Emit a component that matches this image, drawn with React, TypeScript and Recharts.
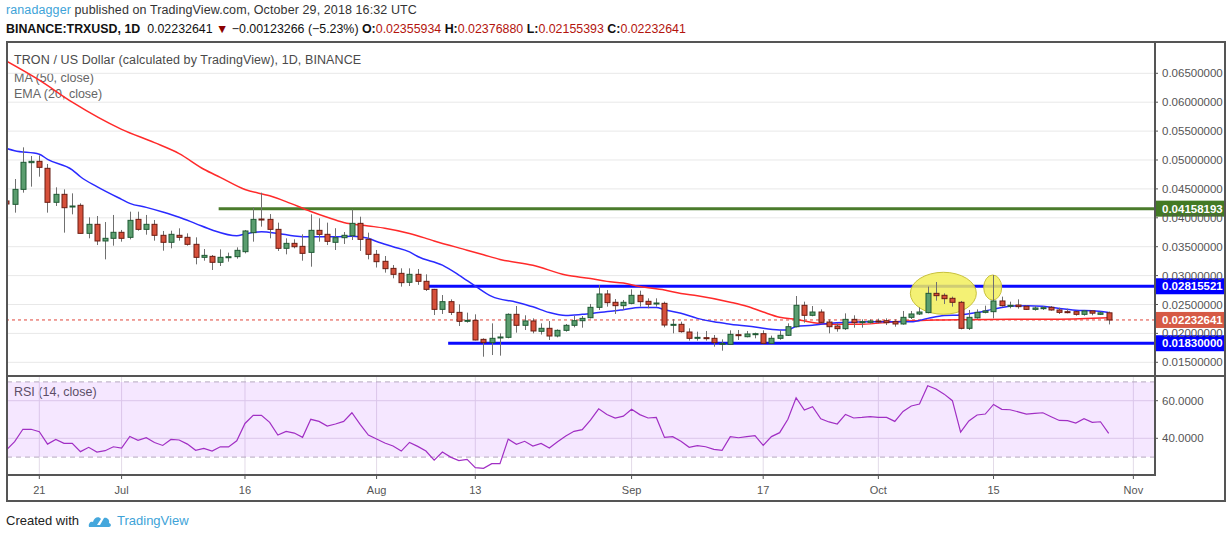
import React from 'react';
import {
  ComposedChart,
  Bar,
  Line,
  XAxis,
  YAxis,
  CartesianGrid,
  ReferenceLine,
  ReferenceDot,
  ReferenceArea,
} from 'recharts';

// day index: 0 = Jun 21 2018, first candle Jun 17
const FIRST_DAY = -4;

const opens = [
  0.04291, 0.04233, 0.04492, 0.04954, 0.04977, 0.04856, 0.04268, 0.04406, 0.04198, 0.04216,
  0.03731, 0.03887, 0.03599, 0.03645, 0.03749, 0.03662, 0.03973, 0.038, 0.03887, 0.03697,
  0.03576, 0.03697, 0.03662, 0.03541, 0.03316, 0.03333, 0.0323, 0.03316, 0.03328, 0.03414,
  0.03743, 0.03979, 0.03973, 0.038, 0.03472, 0.03558, 0.03506, 0.03402, 0.03783, 0.03714,
  0.03576, 0.03656, 0.03691, 0.03904, 0.03627, 0.03368, 0.03247, 0.03125, 0.03039, 0.02884,
  0.03022, 0.02901, 0.02762, 0.02416, 0.02549, 0.02364, 0.02209, 0.02226, 0.01897, 0.0184,
  0.01926, 0.01932, 0.0233, 0.0214, 0.02215, 0.02036, 0.02088, 0.01955, 0.02053, 0.0214,
  0.0222, 0.02272, 0.02451, 0.02682, 0.02538, 0.0248, 0.0252, 0.02659, 0.02555, 0.02509,
  0.0252, 0.02145, 0.02157, 0.02024, 0.01915, 0.01926, 0.01915, 0.01811, 0.01811, 0.01978,
  0.01943, 0.01984, 0.01995, 0.01828, 0.01915, 0.01967, 0.02116, 0.02486, 0.02313, 0.0237,
  0.02197, 0.02128, 0.02082, 0.02243, 0.02191, 0.02191, 0.02215, 0.0222, 0.02203, 0.02163,
  0.02278, 0.02336, 0.0236, 0.02693, 0.02659, 0.02607, 0.02538, 0.02088, 0.0227, 0.02364,
  0.02376, 0.02561, 0.0248, 0.02491, 0.02469, 0.02416, 0.0244, 0.02451, 0.02405, 0.02376,
  0.02376, 0.0233, 0.02388, 0.0233, 0.02355934,
];

const highs = [
  0.043, 0.04671, 0.05219, 0.05069, 0.0508, 0.04931, 0.04527, 0.04492, 0.04423, 0.0425,
  0.04008, 0.04031, 0.03927, 0.04049, 0.0379, 0.04106, 0.04106, 0.04049, 0.03962, 0.03772,
  0.03777, 0.03818, 0.03731, 0.03662, 0.0346, 0.03356, 0.03454, 0.03397, 0.03489, 0.03789,
  0.04181, 0.04435, 0.04065, 0.03916, 0.03645, 0.03627, 0.03714, 0.0406, 0.03991, 0.03916,
  0.0382, 0.03754, 0.04146, 0.04019, 0.03743, 0.03443, 0.03339, 0.03183, 0.03126, 0.03126,
  0.03114, 0.03022, 0.0277, 0.02664, 0.02589, 0.02503, 0.02359, 0.0233, 0.01915, 0.02174,
  0.02001, 0.02347, 0.02474, 0.02313, 0.0226, 0.02174, 0.02214, 0.0207, 0.02163, 0.02301,
  0.02301, 0.02509, 0.02837, 0.02751, 0.02595, 0.02578, 0.02762, 0.02739, 0.02607, 0.02607,
  0.02549, 0.02249, 0.02203, 0.02088, 0.0203, 0.02042, 0.01972, 0.01897, 0.02053, 0.02059,
  0.02042, 0.02013, 0.02053, 0.01961, 0.02053, 0.02174, 0.02647, 0.02549, 0.02474, 0.02416,
  0.02243, 0.02174, 0.02347, 0.02313, 0.02243, 0.02243, 0.02255, 0.0226, 0.02243, 0.02388,
  0.02388, 0.02451, 0.02809, 0.02889, 0.02693, 0.02636, 0.02561, 0.02405, 0.02416, 0.0248,
  0.0301, 0.02636, 0.02549, 0.02589, 0.02486, 0.02474, 0.02474, 0.02474, 0.02445, 0.02428,
  0.02393, 0.02405, 0.02405, 0.02376, 0.0237688,
];

const lows = [
  0.0423, 0.04089, 0.04435, 0.04539, 0.04712, 0.04089, 0.04204, 0.03743, 0.0406, 0.0373,
  0.03645, 0.03529, 0.03281, 0.03518, 0.03587, 0.03627, 0.03777, 0.03708, 0.03604, 0.03431,
  0.03472, 0.03604, 0.03518, 0.03195, 0.03258, 0.03097, 0.03166, 0.03241, 0.03293, 0.03385,
  0.03587, 0.03847, 0.03645, 0.03426, 0.03368, 0.03472, 0.03258, 0.03154, 0.03587, 0.03529,
  0.03443, 0.03547, 0.03616, 0.03426, 0.03281, 0.0314, 0.03051, 0.02953, 0.02809, 0.0282,
  0.0284, 0.02734, 0.02318, 0.02336, 0.02318, 0.02128, 0.02186, 0.0188, 0.01597, 0.01626,
  0.01615, 0.01915, 0.02013, 0.02059, 0.02001, 0.0198, 0.01886, 0.01932, 0.0203, 0.02105,
  0.02099, 0.0226, 0.02405, 0.02463, 0.02336, 0.02405, 0.02503, 0.02463, 0.02434, 0.02463,
  0.02105, 0.02001, 0.02013, 0.01875, 0.01875, 0.01875, 0.0177, 0.01701, 0.01799, 0.01886,
  0.01932, 0.01915, 0.01811, 0.01817, 0.0189, 0.01955, 0.02105, 0.02186, 0.02296, 0.02174,
  0.02001, 0.0203, 0.02059, 0.02099, 0.02099, 0.02168, 0.02174, 0.02145, 0.02116, 0.02151,
  0.02249, 0.02318, 0.02347, 0.02566, 0.02509, 0.02463, 0.0207, 0.02059, 0.02255, 0.02347,
  0.0226, 0.02463, 0.02434, 0.02428, 0.02405, 0.02393, 0.02405, 0.02393, 0.02336, 0.02347,
  0.02307, 0.02307, 0.02313, 0.02318, 0.02155393,
];

const closes = [
  0.04239, 0.04492, 0.0496, 0.04977, 0.04873, 0.04268, 0.04406, 0.04175, 0.04204, 0.03731,
  0.03887, 0.03599, 0.03645, 0.03749, 0.03645, 0.03956, 0.038, 0.03887, 0.03697, 0.03576,
  0.03714, 0.03662, 0.03541, 0.03316, 0.0335, 0.0323, 0.03316, 0.03327, 0.03437, 0.03772,
  0.03973, 0.03967, 0.038, 0.03472, 0.03558, 0.035, 0.03385, 0.03783, 0.03714, 0.03593,
  0.03656, 0.03697, 0.03904, 0.03627, 0.03368, 0.03241, 0.0312, 0.03022, 0.02878, 0.03022,
  0.02901, 0.02762, 0.02416, 0.02549, 0.02364, 0.02209, 0.02226, 0.01886, 0.0184, 0.01915,
  0.01938, 0.0233, 0.0214, 0.02215, 0.02042, 0.02088, 0.01955, 0.02053, 0.0214, 0.0222,
  0.0226, 0.02451, 0.02682, 0.02532, 0.0248, 0.02538, 0.02659, 0.02549, 0.02503, 0.02526,
  0.02145, 0.02157, 0.0203, 0.01915, 0.01932, 0.01909, 0.0184, 0.01828, 0.01984, 0.01961,
  0.0199, 0.01995, 0.01828, 0.01915, 0.01967, 0.02116, 0.02486, 0.02313, 0.0237, 0.02191,
  0.02116, 0.02082, 0.02243, 0.02186, 0.02203, 0.02215, 0.02203, 0.02186, 0.02163, 0.02278,
  0.02336, 0.0237, 0.02693, 0.02653, 0.02601, 0.02538, 0.02088, 0.02278, 0.02364, 0.02388,
  0.02561, 0.0248, 0.02486, 0.02463, 0.02416, 0.0244, 0.02445, 0.02405, 0.02364, 0.02364,
  0.0233, 0.02388, 0.0235, 0.02356, 0.02232641,
];

// MA (50) red line, read at sample days
const maDays = [
  -4, 0, 4, 10, 14, 17, 20, 22, 25, 28, 30, 33, 35, 37, 40, 42, 45, 48, 52, 54, 56, 60, 64,
  67, 69, 71, 73, 76, 78, 80, 84, 86, 88, 90, 92, 96, 100, 104, 109, 118, 124, 130,
];
const maValues = [
  0.0671, 0.0638, 0.06, 0.0553, 0.053, 0.0511, 0.0484, 0.047, 0.0449, 0.0438, 0.0428, 0.0411,
  0.0401, 0.0392, 0.0386, 0.0382, 0.0373, 0.036, 0.0344, 0.0336, 0.0328, 0.0318, 0.0301,
  0.0295, 0.029, 0.0287, 0.0281, 0.0275, 0.0269, 0.0265, 0.0254, 0.0247, 0.0237, 0.0228,
  0.0224, 0.0216, 0.0216, 0.022, 0.0223, 0.02244, 0.02246, 0.0227,
];

// EMA (20) blue line
const emaDays = [
  -4, -3, 0, 1, 4, 5, 7, 10, 11, 13, 15, 17, 19, 21, 24, 25, 27, 29, 31, 33, 36, 38, 40, 41,
  43, 45, 46, 49, 51, 53, 55, 58, 60, 62, 64, 66, 68, 70, 71, 73, 75, 76, 78, 80, 82, 84, 87,
  90, 91, 92, 94, 95, 98, 101, 104, 106, 108, 110, 112, 114, 116, 118, 120, 122, 124, 126,
  128, 130,
];
const emaValues = [
  0.052, 0.0516, 0.051, 0.0501, 0.0483, 0.0471, 0.0454, 0.0432, 0.0425, 0.0418, 0.041,
  0.0401, 0.039, 0.0379, 0.0369, 0.0372, 0.0376, 0.0373, 0.03685, 0.0367, 0.0367, 0.0368,
  0.03645, 0.0359, 0.035, 0.0341, 0.0333, 0.0318, 0.0301, 0.0282, 0.0264, 0.0254, 0.0246,
  0.0236, 0.0231, 0.0233, 0.0236, 0.0239, 0.0241, 0.0245, 0.0245, 0.0241, 0.0235, 0.0226,
  0.022, 0.0216, 0.0211, 0.0206, 0.0206, 0.0212, 0.0214, 0.0216, 0.0219, 0.022, 0.022, 0.022,
  0.0226, 0.0231, 0.0232, 0.0236, 0.0242, 0.0247, 0.0248, 0.0247, 0.0243, 0.024, 0.0239,
  0.0236,
];

// RSI (14), one value per candle
const rsiValues = [
  33.8, 38.2, 44.8, 44.8, 43.5, 36.9, 39.4, 37.3, 37.3, 32.9, 35.2, 32.7, 33.4, 35.5, 34.8,
  41.0, 38.9, 40.3, 37.8, 36.2, 39.4, 39.1, 36.9, 33.6, 34.6, 33.2, 35.5, 35.4, 38.7, 47.9,
  52.2, 52.2, 48.5, 41.7, 43.7, 42.8, 40.5, 50.1, 49.0, 46.5, 47.6, 49.0, 53.6, 47.4, 41.7,
  39.6, 37.5, 35.9, 33.2, 37.8, 35.7, 33.2, 28.4, 32.7, 30.0, 28.1, 28.8, 24.4, 24.0, 26.5,
  26.5, 39.6, 36.8, 38.4, 35.9, 37.3, 34.8, 38.2, 41.2, 43.7, 44.6, 49.7, 55.7, 52.7, 50.8,
  51.8, 55.4, 52.6, 50.8, 51.1, 40.5, 40.9, 38.4, 35.2, 36.1, 35.5, 34.1, 33.6, 40.9, 40.3,
  40.9, 41.4, 36.2, 40.9, 43.0, 50.1, 61.6, 55.0, 56.8, 50.4, 48.7, 47.6, 52.7, 50.8, 51.1,
  51.5, 51.1, 51.1, 49.0, 54.3, 57.2, 58.2, 68.0, 66.2, 63.5, 60.0, 43.3, 49.2, 52.4, 52.9,
  58.0, 55.4, 55.2, 54.1, 52.9, 53.3, 53.6, 51.5, 49.5, 49.4, 48.1, 50.4, 48.5, 48.8, 42.6,
];

const tickDays = [0, 10, 25, 41, 53, 72, 88, 102, 116, 133];
const tickLabels = ['21', 'Jul', '16', 'Aug', '13', 'Sep', '17', 'Oct', '15', 'Nov'];
const priceTicks = [0.015, 0.02, 0.025, 0.03, 0.035, 0.04, 0.045, 0.05, 0.055, 0.06, 0.065];
const rsiTicks = [40, 60];

const resistance = 0.04158193;
const rangeTop = 0.02815521;
const rangeBottom = 0.0183;
const lastClose = 0.02232641;

const DAY_MIN = -3.93;
const DAY_MAX = 135.63;
const PRICE_DOMAIN = [0.01263, 0.070415];

const candles = opens.map((o, i) => ({
  d: FIRST_DAY + i,
  o,
  h: highs[i],
  l: lows[i],
  c: closes[i],
}));
const maData = maDays.map((d, i) => ({ d, v: maValues[i] }));
const emaData = emaDays.map((d, i) => ({ d, v: emaValues[i] }));
const rsiData = rsiValues.map((v, i) => ({ d: FIRST_DAY + i, rsi: v }));

const FONT = '"Liberation Sans", Arial, sans-serif';

const Candle = (props: any) => {
  const { x, y, width, height, payload } = props;
  if (!payload || height == null) return null;
  const top = Math.min(y, y + height);
  const span = Math.abs(height);
  const { o, h, l, c } = payload;
  const toY = (v: number) => top + ((h - v) / (h - l)) * span;
  const cx = Math.round(x + width / 2) + 0.5;
  const up = c >= o;
  const bTop = toY(Math.max(o, c));
  const bBot = toY(Math.min(o, c));
  return (
    <g>
      <line x1={cx} x2={cx} y1={top} y2={top + span} stroke="#707070" strokeWidth={1} />
      <rect
        x={cx - 2.5}
        y={bTop}
        width={5}
        height={Math.max(bBot - bTop, 1)}
        fill={up ? '#5b9e6f' : '#d6503b'}
        stroke={up ? '#1f5a34' : '#6b1c12'}
        strokeWidth={1}
      />
    </g>
  );
};

const PriceTag = (props: any) => {
  const { viewBox, text, fill } = props;
  if (!viewBox) return null;
  const right = viewBox.x + viewBox.width;
  const cy = viewBox.y;
  return (
    <g>
      <rect x={right} y={cy - 8} width={70} height={16} fill={fill} />
      <text
        x={right + 7}
        y={cy}
        dy="0.36em"
        fill="#fff"
        fontSize={11.5}
        fontWeight="bold"
        fontFamily={FONT}
      >
        {text}
      </text>
    </g>
  );
};

const ellipseShape = (rx: number, ry: number) => (p: any) =>
  (
    <ellipse
      cx={p.cx}
      cy={p.cy}
      rx={rx}
      ry={ry}
      fill="#f2ee5c"
      fillOpacity={0.85}
      stroke="#c8c13a"
      strokeWidth={1}
    />
  );

const Logo = () => (
  <svg width={24} height={16} viewBox="0 0 24 16">
    <path
      d="M1 15 C0 11 3 9 5 10 C6 5 11 4 13 7 L9 13 L12 13 L16 6 C19 5 22 8 21 11 C24 12 23 15 21 15 Z"
      fill="#45a7dc"
    />
  </svg>
);

const frameLine = (left: number, top: number, width: number, height: number) => (
  <div style={{ position: 'absolute', left, top, width, height, background: '#555' }} />
);

const priceXAxis = (
  <XAxis
    type="number"
    dataKey="d"
    domain={[DAY_MIN, DAY_MAX]}
    allowDataOverflow
    ticks={tickDays}
    height={0}
    tick={false}
    axisLine={false}
    tickLine={false}
  />
);

export default function App() {
  const red = '#b3140d';
  return (
    <div
      style={{
        position: 'absolute',
        left: 0,
        top: 0,
        width: 1232,
        height: 537,
        background: '#fff',
        fontFamily: FONT,
        overflow: 'hidden',
      }}
    >
      <div style={{ position: 'absolute', left: 6, top: 2, fontSize: 12.5, letterSpacing: 0.1, lineHeight: '16px', color: '#333', whiteSpace: 'nowrap' }}>
        <span style={{ color: '#3ea3d8' }}>ranadagger</span> published on TradingView.com, October 29, 2018 16:32 UTC
      </div>
      <div style={{ position: 'absolute', left: 6, top: 21, fontSize: 12.4, lineHeight: '16px', color: '#111', whiteSpace: 'nowrap' }}>
        <b>BINANCE:TRXUSD, 1D</b>&nbsp; 0.02232641 <span style={{ color: '#8b0000' }}>▼</span> −0.00123266 (−5.23%){' '}
        <b>O:</b>
        <span style={{ color: red }}>0.02355934</span> <b>H:</b>
        <span style={{ color: red }}>0.02376880</span> <b>L:</b>
        <span style={{ color: red }}>0.02155393</span> <b>C:</b>
        <span style={{ color: red }}>0.02232641</span>
      </div>

      <div style={{ position: 'absolute', left: 14, top: 52, fontSize: 12.5, letterSpacing: 0.1, lineHeight: '16px', color: '#4a4a4a', whiteSpace: 'nowrap' }}>
        TRON / US Dollar (calculated by TradingView), 1D, BINANCE
      </div>
      <div style={{ position: 'absolute', left: 14, top: 70, fontSize: 12.5, lineHeight: '16px', color: '#666' }}>MA (50, close)</div>
      <div style={{ position: 'absolute', left: 14, top: 86, fontSize: 12.5, lineHeight: '16px', color: '#666' }}>EMA (20, close)</div>
      <div style={{ position: 'absolute', left: 14, top: 384, fontSize: 12.5, lineHeight: '16px', color: '#555' }}>RSI (14, close)</div>

      {/* price pane: grid, levels, averages, highlight ellipses */}
      <div style={{ position: 'absolute', left: 0, top: 42 }}>
        <ComposedChart width={1225} height={334} data={candles} margin={{ top: 0, right: 0, bottom: 0, left: 7 }}>
          <CartesianGrid stroke="#e8e8e8" />
          {priceXAxis}
          <YAxis
            orientation="right"
            type="number"
            domain={PRICE_DOMAIN}
            allowDataOverflow
            ticks={priceTicks}
            width={70}
            tickFormatter={(v: number) => v.toFixed(8)}
            tick={{ fill: '#555', fontSize: 11.5 }}
            tickLine={{ stroke: '#555' }}
            tickSize={3}
            tickMargin={4}
            axisLine={false}
          />
          <ReferenceLine
            y={lastClose}
            stroke="#e0443a"
            strokeDasharray="3 3"
            label={<PriceTag text="0.02232641" fill="#d65a45" />}
          />
          <ReferenceLine
            segment={[{ x: 21.8, y: resistance }, { x: DAY_MAX, y: resistance }]}
            stroke="#4a7b2c"
            strokeWidth={3}
            label={<PriceTag text="0.04158193" fill="#437a24" />}
          />
          <ReferenceLine
            segment={[{ x: 47.2, y: rangeTop }, { x: DAY_MAX, y: rangeTop }]}
            stroke="#0a0aff"
            strokeWidth={3}
            label={<PriceTag text="0.02815521" fill="#0000ff" />}
          />
          <ReferenceLine
            segment={[{ x: 49.7, y: rangeBottom }, { x: DAY_MAX, y: rangeBottom }]}
            stroke="#0a0aff"
            strokeWidth={3}
            label={<PriceTag text="0.01830000" fill="#0000ff" />}
          />
          <Line data={maData} dataKey="v" type="monotone" stroke="#ff2a2a" strokeWidth={1.5} dot={false} isAnimationActive={false} />
          <Line data={emaData} dataKey="v" type="monotone" stroke="#2a2aff" strokeWidth={1.5} dot={false} isAnimationActive={false} />
          <ReferenceDot x={109.9} y={0.02694} shape={ellipseShape(33, 21)} />
          <ReferenceDot x={115.9} y={0.02794} shape={ellipseShape(9, 12.5)} />
        </ComposedChart>
      </div>

      {/* candles on top, same axes */}
      <div style={{ position: 'absolute', left: 0, top: 42 }}>
        <ComposedChart width={1225} height={334} data={candles} margin={{ top: 0, right: 0, bottom: 0, left: 7 }}>
          {priceXAxis}
          <YAxis
            orientation="right"
            type="number"
            domain={PRICE_DOMAIN}
            allowDataOverflow
            width={70}
            tick={false}
            tickLine={false}
            axisLine={false}
          />
          <Bar dataKey={(r: any) => [r.l, r.h]} barSize={6} shape={<Candle />} isAnimationActive={false} />
        </ComposedChart>
      </div>

      <div style={{ position: 'absolute', left: 0, top: 376 }}>
        <ComposedChart width={1225} height={125} data={rsiData} margin={{ top: 0, right: 0, bottom: 0, left: 7 }}>
          <ReferenceArea y1={30} y2={70} fill="#9915ff" fillOpacity={0.1} stroke="none" />
          <CartesianGrid stroke="#e3dbe8" />
          <XAxis
            type="number"
            dataKey="d"
            domain={[DAY_MIN, DAY_MAX]}
            allowDataOverflow
            ticks={tickDays}
            interval={0}
            height={26}
            tickFormatter={(v: number) => tickLabels[tickDays.indexOf(v)] ?? ''}
            tick={{ fill: '#555', fontSize: 11 }}
            tickLine={{ stroke: '#555' }}
            tickSize={4}
            tickMargin={7}
            axisLine={false}
          />
          <YAxis
            orientation="right"
            type="number"
            domain={[20.48, 73.14]}
            allowDataOverflow
            ticks={rsiTicks}
            width={70}
            tickFormatter={(v: number) => v.toFixed(4)}
            tick={{ fill: '#555', fontSize: 11.5 }}
            tickLine={{ stroke: '#555' }}
            tickSize={3}
            tickMargin={4}
            axisLine={false}
          />
          <ReferenceLine y={70} stroke="#b5a8bf" strokeDasharray="5 4" />
          <ReferenceLine y={30} stroke="#b5a8bf" strokeDasharray="5 4" />
          <Line dataKey="rsi" type="linear" stroke="#a12fc4" strokeWidth={1.2} dot={false} isAnimationActive={false} />
        </ComposedChart>
      </div>

      {frameLine(6, 41, 1220, 2)}
      {frameLine(6, 500, 1220, 2)}
      {frameLine(6, 41, 2, 461)}
      {frameLine(1224, 41, 2, 461)}
      {frameLine(6, 375, 1220, 2)}
      {frameLine(6, 474, 1150, 2)}
      {frameLine(1154, 41, 2, 435)}

      <div style={{ position: 'absolute', left: 6, top: 513, fontSize: 13, lineHeight: '16px', color: '#222', whiteSpace: 'nowrap' }}>
        Created with
      </div>
      <div style={{ position: 'absolute', left: 88, top: 512 }}>
        <Logo />
      </div>
      <div style={{ position: 'absolute', left: 117, top: 513, fontSize: 13, lineHeight: '16px', color: '#3ea3d8', whiteSpace: 'nowrap' }}>
        TradingView
      </div>
    </div>
  );
}
